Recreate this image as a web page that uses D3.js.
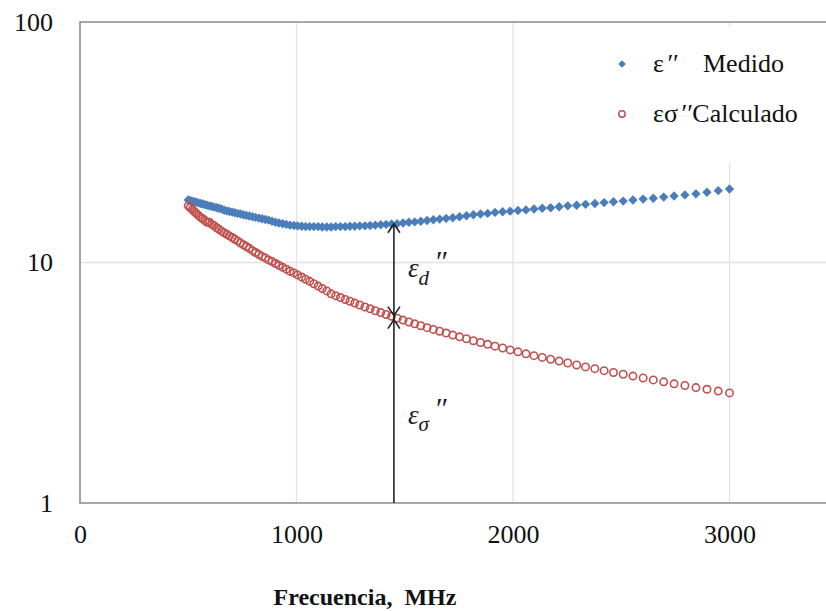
<!DOCTYPE html>
<html><head><meta charset="utf-8">
<script src="https://cdn.jsdelivr.net/npm/d3@7/dist/d3.min.js"></script>
<style>
html,body{margin:0;padding:0;background:#fff;}
svg{display:block;}
text{font-family:"Liberation Serif","Times New Roman",serif;}
</style></head>
<body>
<svg id="chart" width="826" height="611"></svg>
<script>
// ---- data ----
const freqMHz = [500,509,518,528,537,547,557,567,577,587,598,609,620,631,642,654,666,678,690,703,715,728,741,755,768,782,797,811,826,841,856,871,887,903,919,936,953,970,988,1005,1024,1042,1061,1080,1100,1119,1140,1160,1181,1203,1225,1247,1269,1292,1316,1340,1364,1389,1414,1439,1465,1492,1519,1546,1574,1603,1632,1661,1691,1722,1753,1785,1817,1850,1883,1917,1952,1987,2023,2060,2097,2135,2174,2213,2253,2294,2335,2378,2421,2464,2509,2554,2601,2648,2696,2744,2794,2845,2896,2948,3000];
const medido = [18.2,18.1,18.0,17.9,17.8,17.7,17.6,17.5,17.4,17.3,17.2,17.1,17.0,16.9,16.8,16.7,16.5,16.4,16.3,16.2,16.1,16.0,15.9,15.8,15.7,15.6,15.5,15.4,15.3,15.2,15.1,15.0,14.85,14.7,14.6,14.5,14.4,14.3,14.25,14.2,14.15,14.1,14.1,14.1,14.1,14.05,14.05,14.05,14.1,14.1,14.1,14.15,14.15,14.2,14.2,14.25,14.3,14.35,14.4,14.45,14.5,14.6,14.7,14.75,14.85,14.95,15.05,15.15,15.25,15.35,15.5,15.65,15.8,15.9,16.0,16.15,16.25,16.35,16.45,16.55,16.7,16.8,16.9,17.05,17.2,17.3,17.45,17.6,17.75,17.9,18.0,18.2,18.35,18.5,18.7,18.9,19.1,19.3,19.6,19.9,20.2];
const calculado = [17.2,16.9,16.6,16.3,16.0,15.7,15.4,15.2,14.95,14.7,14.7,14.4,14.2,13.95,13.75,13.5,13.3,13.1,12.9,12.7,12.5,12.3,12.05,11.85,11.65,11.45,11.2,11.0,10.8,10.6,10.45,10.25,10.1,9.9,9.73,9.55,9.38,9.2,9.05,8.88,8.7,8.52,8.35,8.16,7.98,7.8,7.62,7.41,7.28,7.15,7.02,6.90,6.78,6.66,6.53,6.42,6.30,6.19,6.08,5.98,5.87,5.76,5.66,5.56,5.46,5.36,5.27,5.18,5.09,4.99,4.91,4.82,4.73,4.65,4.57,4.49,4.41,4.33,4.25,4.17,4.10,4.03,3.96,3.89,3.82,3.75,3.68,3.62,3.55,3.49,3.43,3.37,3.31,3.25,3.19,3.13,3.08,3.02,2.97,2.92,2.87];
const xTicks = [0,1000,2000,3000];
const yTicks = [1,10,100];
const legendSymbols = ["\u03b5", "\u03b5\u03c3"];
const legendNames = ["Medido", "Calculado"];
const arrowFreq = 1450;
const arrowTop = 14.5, arrowMid = 5.9, arrowBottom = 1;
const xTitle = "Frecuencia,  MHz";

// ---- layout ----
const svg = d3.select("#chart");
const L = 80, T = 22, B = 503;
const x = d3.scaleLinear().domain([0,3500]).range([L, L + 3500*0.2165]);
const y = d3.scaleLog().domain([1,100]).range([B, T]);

// gridlines
svg.append("g").selectAll("line").data(xTicks.filter(d=>d>0)).join("line")
  .attr("x1",d=>x(d)).attr("x2",d=>x(d)).attr("y1",T).attr("y2",B)
  .attr("stroke","#e2e2e2").attr("stroke-width",1.3);
svg.append("g").selectAll("line").data([10]).join("line")
  .attr("x1",L).attr("x2",826).attr("y1",d=>y(d)).attr("y2",d=>y(d))
  .attr("stroke","#e2e2e2").attr("stroke-width",1.3);

// frame
svg.append("path").attr("d",`M826,${T}H${L}V${B}H826`).attr("fill","none")
  .attr("stroke","#8c8c8c").attr("stroke-width",1.6);

// axes labels via d3 axes
const xAxis = d3.axisBottom(x).tickValues(xTicks).tickSize(0).tickPadding(22).tickFormat(d3.format("d"));
const gx = svg.append("g").attr("transform",`translate(0,${B})`).call(xAxis);
gx.select(".domain").remove();
gx.selectAll("text").attr("font-size",26).attr("fill","#111").attr("font-family","Liberation Serif");

const yAxis = d3.axisLeft(y).tickValues(yTicks).tickSize(0).tickPadding(27).tickFormat(d3.format("d"));
const gy = svg.append("g").attr("transform",`translate(${L},0)`).call(yAxis);
gy.select(".domain").remove();
gy.selectAll("text").attr("font-size",26).attr("fill","#111").attr("font-family","Liberation Serif");

// series
const data = freqMHz.map((f,i)=>({f, m:medido[i], c:calculado[i]}));
const diamond = d3.symbol().type(d3.symbolSquare).size(44);
svg.append("g").selectAll("path").data(data).join("path")
  .attr("d",diamond).attr("transform",d=>`translate(${x(d.f)},${y(d.m)}) rotate(45)`)
  .attr("fill","#4a7ebb");
svg.append("g").selectAll("circle").data(data).join("circle")
  .attr("cx",d=>x(d.f)).attr("cy",d=>y(d.c)).attr("r",3.7)
  .attr("fill","none").attr("stroke","#c0504d").attr("stroke-width",1.6);

// annotation arrows
const ax = x(arrowFreq);
const ann = svg.append("g").attr("stroke","#222").attr("stroke-width",1.6).attr("fill","none");
ann.append("line").attr("x1",ax).attr("x2",ax).attr("y1",y(arrowTop)).attr("y2",y(arrowBottom));
function head(yy, dir){ // dir -1 up, +1 down
  ann.append("path").attr("d",`M${ax-6},${yy-dir*9}L${ax},${yy}L${ax+6},${yy-dir*9}`);
}
head(y(arrowTop),-1);
head(y(arrowMid)-2,1);
head(y(arrowMid)+2,-1);

// annotation labels
const lab = svg.append("g").attr("font-family","DejaVu Serif").attr("font-style","italic").attr("fill","#1a1a2a");
const t1 = lab.append("text").attr("x",ax+14).attr("y",y(arrowMid)-41).attr("font-size",27);
t1.append("tspan").text("\u03b5");
t1.append("tspan").attr("dy",8).attr("font-size",21).text("d");
t1.append("tspan").attr("dx",5).attr("dy",-14).attr("font-size",30).text("\u2033");
const t2 = lab.append("text").attr("x",ax+14).attr("y",y(arrowMid)+106).attr("font-size",27);
t2.append("tspan").text("\u03b5");
t2.append("tspan").attr("dy",7).attr("font-size",21).text("\u03c3");
t2.append("tspan").attr("dx",5).attr("dy",-13).attr("font-size",30).text("\u2033");

// legend
const lg = svg.append("g");
lg.append("rect").attr("x",605).attr("y",27).attr("width",221).attr("height",136).attr("fill","#fff");
lg.append("path").attr("d",d3.symbol().type(d3.symbolSquare).size(30)).attr("transform","translate(622,64) rotate(45)").attr("fill","#4a7ebb");
lg.append("circle").attr("cx",622).attr("cy",114).attr("r",3.2).attr("fill","none").attr("stroke","#c0504d").attr("stroke-width",1.5);
lg.selectAll("text").data(legendNames).join("text")
  .attr("x",653).attr("y",(d,i)=>72+i*50).attr("font-size",26).attr("fill","#111")
  .each(function(d,i){
    const t = d3.select(this);
    t.append("tspan").text(legendSymbols[i]);
    t.append("tspan").attr("font-style","italic").attr("dx",2).text("\u2032\u2032");
    t.append("tspan").attr("x", i===0 ? 703 : null).attr("dx", i===0 ? null : 1).text(d);
  });

// x title
svg.append("text").attr("x",365).attr("y",605).attr("text-anchor","middle")
  .attr("font-size",24).attr("font-weight","bold").attr("fill","#111").style("white-space","pre").text(xTitle);
</script>
</body></html>
